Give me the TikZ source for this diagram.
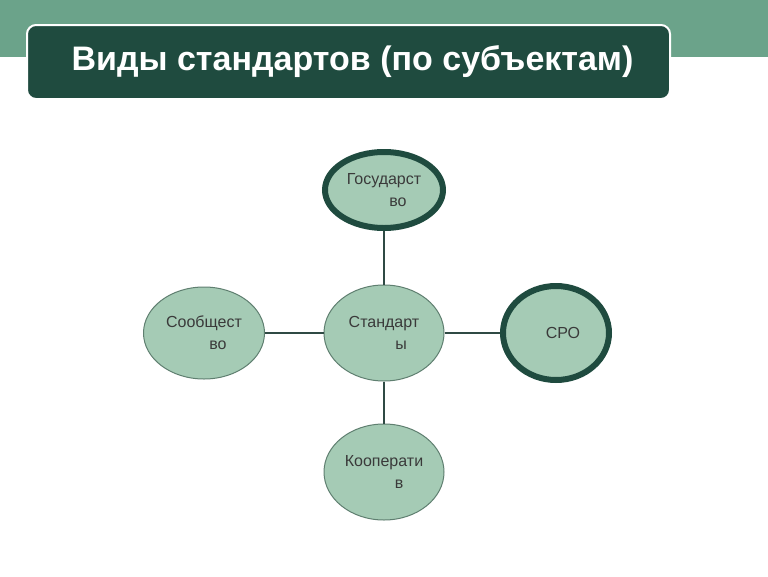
\documentclass[tikz,border=0pt]{standalone}
\usepackage{fontspec}
\setmainfont{Liberation Sans}
\usetikzlibrary{shapes.geometric}
\definecolor{band}{HTML}{6BA38A}
\definecolor{titlebg}{HTML}{1F4B3F}
\definecolor{ellfill}{HTML}{A5CBB5}
\definecolor{ellthin}{HTML}{5F7F70}
\definecolor{ellthick}{HTML}{1F4B3F}
\definecolor{conn}{HTML}{2F4A44}
\definecolor{txt}{HTML}{3A3A3A}
\tikzset{
  ell/.style={ellipse, fill=ellfill, draw=ellthin, line width=1pt, inner sep=0pt,
    text=txt, align=center, font=\fontsize{16}{22}\selectfont},
  ellbold/.style={ell, draw=ellthick, line width=6pt},
  link/.style={draw=conn, line width=2.8pt},
}
\begin{document}
\begin{tikzpicture}[x=1pt,y=-1pt]
\useasboundingbox (0,0) rectangle (768,576);
\fill[white] (0,0) rectangle (768,576);
\fill[band] (0,0) rectangle (768,57);
\node[name=title, draw=white, line width=2pt, fill=titlebg, rounded corners=9pt,
  minimum width=643, minimum height=74, inner sep=0pt, anchor=north west,
  text=white, font=\fontsize{34}{40}\selectfont\bfseries]
  at (26,24) {\hspace*{8pt}Виды стандартов (по субъектам)};
\node[ell, minimum width=120, minimum height=96] (std) at (384,333)
  {Стандарт\\\hspace*{34pt}ы};
\node[ellbold, minimum width=118, minimum height=76] (gos) at (384,190)
  {Государст\\\hspace*{28pt}во};
\node[ell, minimum width=121, minimum height=92] (soob) at (204,333)
  {Сообщест\\\hspace*{28pt}во};
\node[ellbold, minimum width=106, minimum height=94] (sro) at (556,333)
  {\hspace*{14pt}СРО};
\node[ell, minimum width=120, minimum height=96] (koop) at (384,472)
  {Кооперати\\\hspace*{30pt}в};
\draw[link] (gos) -- (std);
\draw[link] (soob) -- (std);
\draw[link] (std) -- (sro);
\draw[link] (std) -- (koop);
\end{tikzpicture}
\end{document}
